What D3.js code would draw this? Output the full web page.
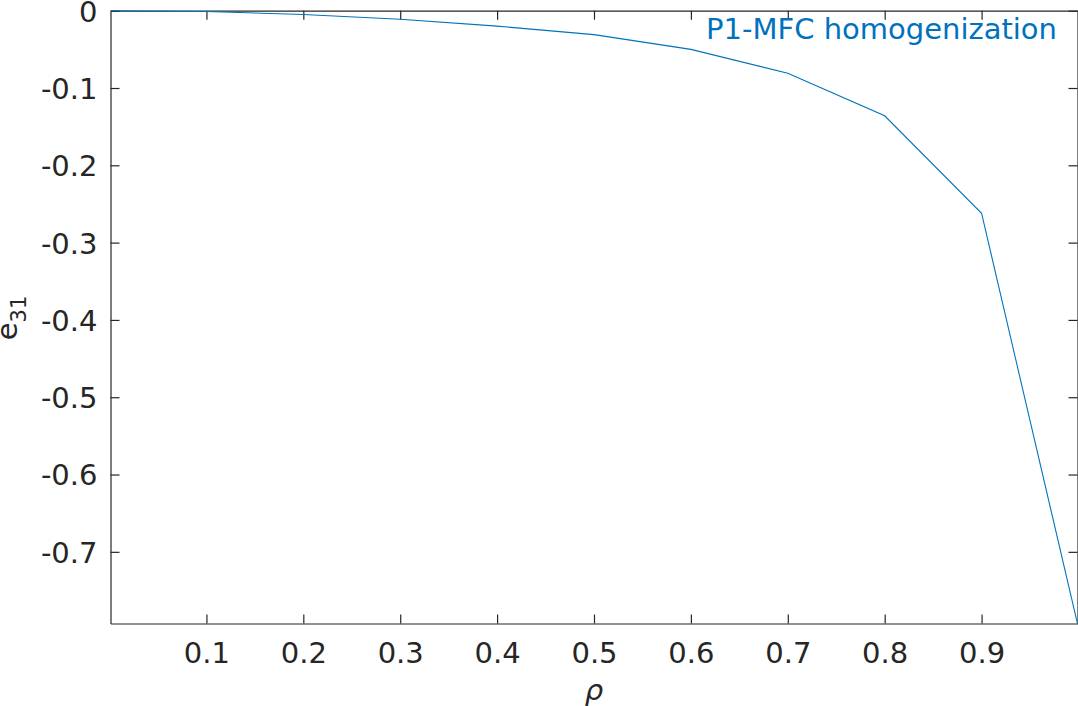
<!DOCTYPE html>
<html>
<head>
<meta charset="utf-8">
<script src="https://cdn.jsdelivr.net/npm/d3@7"></script>
<style>
  html, body { margin: 0; padding: 0; background: #fff; }
  svg { display: block; }
  text { font-family: "DejaVu Sans", sans-serif; fill: #262626; }
</style>
</head>
<body>
<svg id="chart" width="1078" height="706"></svg>
<script>
// Data
const rho = [0.001, 0.1, 0.2, 0.3, 0.4, 0.5, 0.6, 0.7, 0.8, 0.9, 0.999];
const e31 = [0, -0.001, -0.005, -0.011, -0.020, -0.031, -0.050, -0.081, -0.136, -0.262, -0.793];
const xTicks = [0.1, 0.2, 0.3, 0.4, 0.5, 0.6, 0.7, 0.8, 0.9];
const yTicks = [0, -0.1, -0.2, -0.3, -0.4, -0.5, -0.6, -0.7];
const xTickLabels = ["0.1", "0.2", "0.3", "0.4", "0.5", "0.6", "0.7", "0.8", "0.9"];
const yTickLabels = ["0", "-0.1", "-0.2", "-0.3", "-0.4", "-0.5", "-0.6", "-0.7"];
const legendLabel = "P1-MFC homogenization";

const m = { left: 110.5, right: 1077.5, top: 10.7, bottom: 623.5 };
const svg = d3.select("#chart");

const x = d3.scaleLinear().domain([0.001, 0.999]).range([m.left, m.right]);
const y = d3.scaleLinear().domain([-0.7927, 0]).range([m.bottom, m.top]);

const axisColor = "#262626";
const tickLen = 9;
const fs = 29;

// Bottom axis
const gx = svg.append("g").attr("transform", `translate(0,${m.bottom})`)
  .call(d3.axisBottom(x).tickValues(xTicks).tickSizeInner(-tickLen).tickSizeOuter(0).tickPadding(19)
    .tickFormat((d, i) => xTickLabels[i]));
// Top axis
const gxt = svg.append("g").attr("transform", `translate(0,${m.top})`)
  .call(d3.axisTop(x).tickValues(xTicks).tickSizeInner(-tickLen).tickSizeOuter(0).tickFormat(""));
// Left axis
const gy = svg.append("g").attr("transform", `translate(${m.left},0)`)
  .call(d3.axisLeft(y).tickValues(yTicks).tickSizeInner(-tickLen).tickSizeOuter(0).tickPadding(13)
    .tickFormat((d, i) => yTickLabels[i]));
// Right axis
const gyr = svg.append("g").attr("transform", `translate(${m.right},0)`)
  .call(d3.axisRight(y).tickValues(yTicks).tickSizeInner(-tickLen).tickSizeOuter(0).tickFormat(""));

[gx, gxt, gy, gyr].forEach(g => {
  g.select(".domain").attr("stroke", axisColor).attr("stroke-width", 1.2);
  g.selectAll(".tick line").attr("stroke", axisColor).attr("stroke-width", 1.2);
  g.selectAll(".tick text").attr("fill", axisColor).style("font-size", fs + "px")
    .style("font-family", "'DejaVu Sans', sans-serif");
});
gx.selectAll(".tick text").attr("dy", "0.71em");
gy.selectAll(".tick text").attr("dy", "0.36em");

// Data line
const line = d3.line().x((d, i) => x(rho[i])).y(d => y(d));
svg.append("path")
  .datum(e31)
  .attr("d", line)
  .attr("fill", "none")
  .attr("stroke", "#0072BD")
  .attr("stroke-width", 1.1);

// Legend-like label
svg.append("text")
  .attr("x", 1057).attr("y", 39)
  .attr("text-anchor", "end")
  .style("font-size", fs + "px")
  .style("fill", "#0072BD")
  .text(legendLabel);

// X label
svg.append("text")
  .attr("x", 594).attr("y", 700)
  .attr("text-anchor", "middle")
  .style("font-size", fs + "px")
  .style("font-style", "italic")
  .text("ρ");

// Y label e_31
const yl = svg.append("text")
  .attr("transform", `translate(17,318) rotate(-90)`)
  .attr("text-anchor", "middle")
  .style("font-size", fs + "px");
yl.append("tspan").text("e");
yl.append("tspan").attr("dy", 9).style("font-size", "21px").text("31");
</script>
</body>
</html>
